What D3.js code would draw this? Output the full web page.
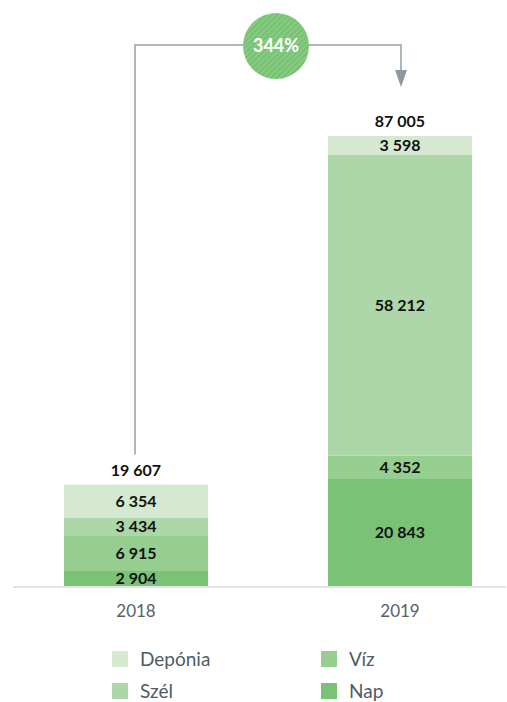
<!DOCTYPE html>
<html>
<head>
<meta charset="utf-8">
<script src="https://cdn.jsdelivr.net/npm/d3@7"></script>
<style>
  html, body { margin: 0; padding: 0; background: #fff; }
  svg { display: block; font-family: "Lato", "Open Sans", sans-serif; }
</style>
</head>
<body>
<div id="chart"></div>
<script>
// adatok
const years = ["2018", "2019"];
const series = ["Nap", "Víz", "Szél", "Depónia"];
const nap = [2904, 20843];
const viz = [6915, 4352];
const szel = [3434, 58212];
const deponia = [6354, 3598];
const totals = [19607, 87005];
const growthLabel = "344%";
const legendOrder = ["Depónia", "Víz", "Szél", "Nap"];

const colors = {
  "Nap": "#7ac376",
  "Víz": "#95ce8f",
  "Szél": "#aed7a9",
  "Depónia": "#d5e9d1"
};

const width = 507, height = 702;
const baseY = 586, topY = 136;

const rows = years.map((y, i) => ({
  year: y, "Nap": nap[i], "Víz": viz[i], "Szél": szel[i], "Depónia": deponia[i], total: totals[i]
}));

const stack = d3.stack().keys(series)(rows);

const x = d3.scaleBand().domain(years).range([11.2, 524.8])
  .paddingInner(120 / 264).paddingOuter(0.2);
const y = d3.scaleLinear().domain([0, d3.max(totals)]).range([baseY, topY]);

const svg = d3.select("#chart").append("svg")
  .attr("width", width).attr("height", height);

// csíkos minta a körhöz
const defs = svg.append("defs");
const pat = defs.append("pattern")
  .attr("id", "stripes").attr("width", 4).attr("height", 4)
  .attr("patternUnits", "userSpaceOnUse")
  .attr("patternTransform", "rotate(45)");
pat.append("rect").attr("width", 4).attr("height", 4).attr("fill", "#78c274");
pat.append("rect").attr("width", 1.3).attr("height", 4).attr("fill", "#8fce8a");

// oszlopok
const layer = svg.append("g").selectAll("g").data(stack).join("g")
  .attr("fill", d => colors[d.key]);

layer.selectAll("rect").data(d => d.map(v => ({ v, key: d.key }))).join("rect")
  .attr("x", d => x(d.v.data.year))
  .attr("width", x.bandwidth())
  .attr("y", d => y(d.v[1]))
  .attr("height", d => y(d.v[0]) - y(d.v[1]));

layer.selectAll("text").data(d => d.map(v => ({ v, key: d.key }))).join("text")
  .attr("x", d => x(d.v.data.year) + x.bandwidth() / 2)
  .attr("y", d => (y(d.v[0]) + y(d.v[1])) / 2)
  .attr("dy", "0.36em")
  .attr("text-anchor", "middle")
  .attr("fill", "#111")
  .attr("font-weight", 700)
  .attr("font-size", 16)
  .text(d => d3.format(",")(d.v[1] - d.v[0]).replace(/,/g, " "));

// összesen
svg.append("g").selectAll("text").data(rows).join("text")
  .attr("x", d => x(d.year) + x.bandwidth() / 2)
  .attr("y", d => y(d.total) - 9)
  .attr("text-anchor", "middle")
  .attr("fill", "#111")
  .attr("font-weight", 700)
  .attr("font-size", 16)
  .text(d => d3.format(",")(d.total).replace(/,/g, " "));

// alapvonal
svg.append("line")
  .attr("x1", 13).attr("x2", 506)
  .attr("y1", baseY + 1).attr("y2", baseY + 1)
  .attr("stroke", "#dfe3e6").attr("stroke-width", 2);

// x tengely
const xAxis = svg.append("g")
  .attr("transform", `translate(0,${baseY})`)
  .call(d3.axisBottom(x).tickSize(0).tickPadding(19));
xAxis.select(".domain").remove();
xAxis.selectAll("text")
  .attr("font-family", "Lato, sans-serif")
  .attr("font-size", 17)
  .attr("fill", "#56626b");

// növekedés nyíl
const cx0 = x(years[0]) + x.bandwidth() / 2 - 1;
const cx1 = x(years[1]) + x.bandwidth() / 2 + 1;
const lineY = 45;
svg.append("path")
  .attr("d", `M${cx0},${y(totals[0]) - 30} V${lineY} H${cx1} V${72}`)
  .attr("fill", "none")
  .attr("stroke", "#93a2aa")
  .attr("stroke-width", 1.5);
svg.append("path")
  .attr("d", `M${cx1 - 6},${70} L${cx1 + 6},${70} L${cx1},${87} Z`)
  .attr("fill", "#8b9ba3");

const bx = (cx0 + cx1) / 2 + 8;
svg.append("circle")
  .attr("cx", bx).attr("cy", 46).attr("r", 33)
  .attr("fill", "url(#stripes)");
svg.append("text")
  .attr("x", bx).attr("y", 46).attr("dy", "0.36em")
  .attr("text-anchor", "middle")
  .attr("fill", "#fff")
  .attr("font-weight", 700)
  .attr("font-size", 18)
  .text(growthLabel);

// jelmagyarázat
const legend = svg.append("g").selectAll("g").data(legendOrder).join("g")
  .attr("transform", (d, i) => `translate(${i % 2 === 0 ? 112 : 321},${651 + Math.floor(i / 2) * 32})`);
legend.append("rect").attr("width", 16).attr("height", 16).attr("fill", d => colors[d]);
legend.append("text")
  .attr("x", 28).attr("y", 8).attr("dy", "0.36em")
  .attr("font-size", 19)
  .attr("fill", "#4f5b64")
  .text(d => d);
</script>
</body>
</html>
